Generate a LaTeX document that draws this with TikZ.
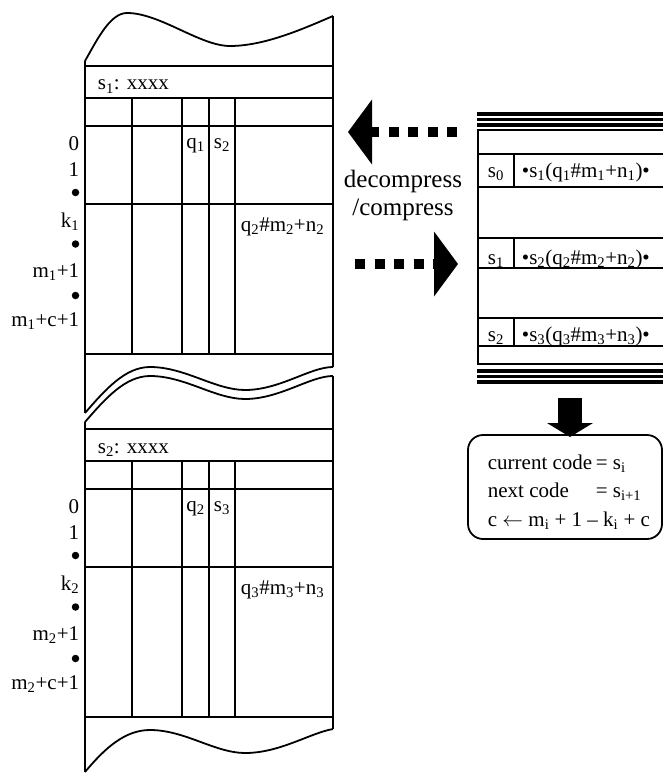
\documentclass[tikz,border=0pt]{standalone}
\usepackage{fontspec}
\setmainfont{Liberation Serif}
\usetikzlibrary{arrows.meta}

\begin{document}
\begin{tikzpicture}[x=1pt, y=-1pt, line width=1.8pt,
    lbl/.style={anchor=base east, inner sep=0pt, font=\fontsize{21}{25}\selectfont},
    cell/.style={anchor=base west, inner sep=0pt, font=\fontsize{21}{25}\selectfont},
    mid/.style={anchor=base, inner sep=0pt, font=\fontsize{21}{25}\selectfont},
    bdot/.style={circle, fill, inner sep=0pt, minimum size=7.5pt},
    tri/.style={line width=3.2pt},
    bigdash/.style={line width=10pt, dash pattern=on 10pt off 9.5pt,
                    -{Triangle[width=65pt, length=24pt, line width=0pt]}}]
  \useasboundingbox (0,0) rectangle (663,773);

  % the two memory blocks
  \foreach \cur/\nxt/\dy in {1/2/0, 2/3/363} {
    \begin{scope}[yshift=-\dy pt]
      \foreach \yy in {66,98,126,204,354}
        \draw (85,\yy) -- (333,\yy);
      \foreach \xx in {132,182,209,235}
        \draw (\xx,98) -- (\xx,354);
      \node[cell] (head\cur) at (97,90)  {s\textsubscript{\cur}: xxxx};
      \node[mid]  (q\cur)    at (195.5,148) {q\textsubscript{\cur}};
      \node[mid]  (s\nxt)    at (222,148) {s\textsubscript{\nxt}};
      \node[cell] (qmn\nxt)  at (240,231) {q\textsubscript{\nxt}\#m\textsubscript{\nxt}+n\textsubscript{\nxt}};
      \node[lbl] (zero\cur) at (80,150) {0};
      \node[lbl] (one\cur)  at (80,176) {1};
      \node[bdot] (dota\cur) at (75.5,192.5) {};
      \node[lbl] (k\cur)    at (80,227) {k\textsubscript{\cur}};
      \node[bdot] (dotb\cur) at (75.5,244) {};
      \node[lbl] (m\cur)    at (80,277) {m\textsubscript{\cur}+1};
      \node[bdot] (dotc\cur) at (75.5,295.5) {};
      \node[lbl] (mc\cur)   at (80,326) {m\textsubscript{\cur}+c+1};
    \end{scope}
  }

  % outline and torn edges
  \draw (85,61) -- (85,413);
  \draw (85,422) -- (85,772);
  \draw (333,16) -- (333,367);
  \draw (333,376) -- (333,729);
  \draw (85,61) .. controls (97,40) and (110,13) .. (127,13)
        .. controls (160,13) and (200,46) .. (230,46)
        .. controls (265,46) and (305,28) .. (333,16);
  \foreach \dd in {0,9}
    \draw[yshift=-\dd pt] (85,413) .. controls (105,390) and (125,367) .. (150,367)
        .. controls (185,367) and (215,390) .. (245,390)
        .. controls (280,390) and (310,367) .. (333,367);
  \draw (85,772) .. controls (105,748) and (125,730) .. (150,730)
        .. controls (185,730) and (215,753) .. (245,753)
        .. controls (280,753) and (310,733) .. (333,729);

  % code table
  \foreach \yy in {114,119.5,125}
    \draw[tri] (477,\yy) -- (663,\yy);
  \draw (663,130) -- (478,130) -- (478,364) -- (663,364);
  \foreach \yy in {154,187,238,268,318,346}
    \draw (478,\yy) -- (663,\yy);
  \foreach \ya/\yb in {154/187, 238/268, 318/346}
    \draw (514,\ya) -- (514,\yb);
  \foreach \yy in {371,376.5,382}
    \draw[tri] (477,\yy) -- (663,\yy);
  \foreach \r/\n/\yy in {0/1/177, 1/2/264, 2/3/341} {
    \node[mid]  (code\r)  at (496,\yy) {s\textsubscript{\r}};
    \node[cell] (entry\r) at (521,\yy) {•s\textsubscript{\n}(q\textsubscript{\n}\#m\textsubscript{\n}+n\textsubscript{\n})•};
  }

  % arrows
  \node[anchor=base, inner sep=0pt, font=\fontsize{25}{28}\selectfont] (dirs) at (403,187)
    {\begin{tabular}[t]{@{}c@{}}decompress\\/compress\end{tabular}};
  \coordinate (decfrom) at (457,132);
  \coordinate (decto)   at (348,132);
  \coordinate (comfrom) at (355,264);
  \coordinate (comto)   at (458,264);
  \coordinate (downfrom) at (570,398);
  \coordinate (downto)   at (570,437);
  \draw[bigdash] (decfrom) -- (decto);
  \draw[bigdash] (comfrom) -- (comto);
  \draw[line width=24pt, -{Triangle[width=46pt, length=14pt, line width=0pt]}] (downfrom) -- (downto);

  % update rule
  \node[draw, rounded corners=15pt, minimum width=194pt, minimum height=104pt, inner sep=0pt] (rulebox) at (565,487) {};
  \node[anchor=base west, inner sep=0pt, font=\fontsize{21}{28.5}\selectfont] (rules) at (487,469)
    {\begin{tabular}[t]{@{}l@{\,}l@{}}
       current code & = s\textsubscript{i}\\
       next code & = s\textsubscript{i+1}\\
       \multicolumn{2}{@{}l@{}}{c \(\leftarrow\) m\textsubscript{i} + 1 – k\textsubscript{i} + c}
     \end{tabular}};
\end{tikzpicture}
\end{document}
